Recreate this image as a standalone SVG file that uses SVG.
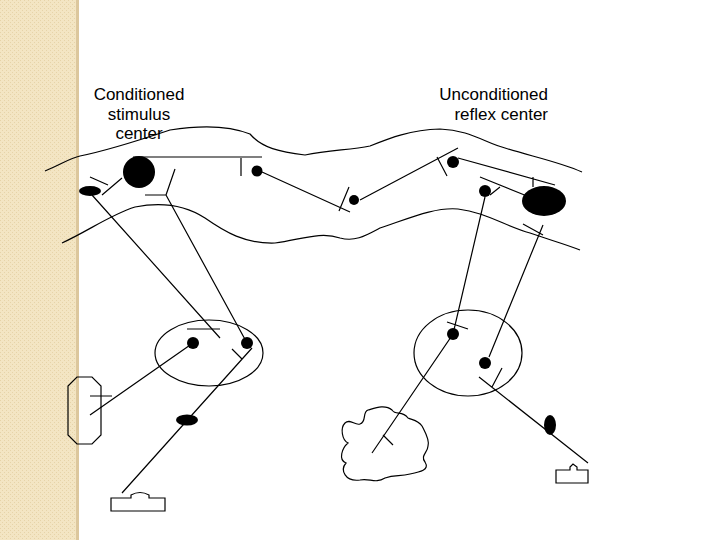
<svg xmlns="http://www.w3.org/2000/svg" width="720" height="540" viewBox="0 0 720 540">
<style>
.l{fill:none;stroke:#000;stroke-width:1.2}
.f{fill:#000}
.t{font-family:"Liberation Sans",Arial,sans-serif;font-size:17px;fill:#000;text-anchor:middle}
.e{text-anchor:end}
</style>
<defs>
<pattern id="p" width="4" height="4" patternUnits="userSpaceOnUse">
<rect width="4" height="4" fill="#f3e5c3"/><rect width="1" height="1" fill="#e6d3a8"/><rect x="2" y="2" width="1" height="1" fill="#e6d3a8"/>
</pattern>
</defs>
<rect width="720" height="540" fill="#fff"/>
<rect width="77" height="540" fill="url(#p)"/>
<rect x="76" width="3" height="540" fill="#dcc79d"/>
<g id="labels">
<text class="t" x="139" y="100">Conditioned</text>
<text class="t" x="139" y="120">stimulus</text>
<text class="t" x="139" y="139">center</text>
<text class="t e" x="548" y="100">Unconditioned</text>
<text class="t e" x="548" y="120">reflex center</text>
</g>
<g id="brain">
<path class="l" d="M45,171 C60,165 70,158 80,156 C110,150 140,140 170,130 C195,126 225,124 250,134 C262,148 280,152 305,155 C330,150 350,150 370,146 C390,138 410,130 440,129 C470,130 485,143 505,148 C530,156 560,162 582,172"/>
<path class="l" d="M62,243 C90,230 110,215 135,207 C160,202 185,205 205,218 C225,232 245,244 275,243 C300,240 320,231 340,238 C355,242 365,236 380,228 C410,218 435,207 458,209 C485,212 505,226 530,233 C550,240 565,244 580,250"/>
</g>
<g id="cs-center">
<circle class="f" cx="139" cy="172" r="16"/>
<ellipse class="f" cx="90" cy="191" rx="11" ry="5"/>
<circle class="f" cx="257" cy="171" r="5.5"/>
<circle class="f" cx="354" cy="200" r="5"/>
</g>
<g id="ur-center">
<circle class="f" cx="453" cy="162" r="6"/>
<circle class="f" cx="485" cy="191" r="6"/>
<ellipse class="f" cx="544" cy="201" rx="22" ry="15"/>
</g>
<g id="left-ganglion">
<ellipse class="l" cx="209" cy="353" rx="54" ry="33"/>
<circle class="f" cx="193" cy="343" r="6"/>
<circle class="f" cx="247" cy="343" r="6"/>
</g>
<g id="right-ganglion">
<ellipse class="l" cx="468" cy="353" rx="54" ry="43"/>
<circle class="f" cx="453" cy="334" r="6"/>
<circle class="f" cx="485" cy="363" r="6"/>
</g>
<g id="octagon"><path class="l" d="M77,377 L92,377 L101,386 L101,435 L92,444 L77,444 L68,435 L68,386 Z"/></g>
<g id="left-ganglion-cell"><ellipse class="f" cx="187" cy="420" rx="11" ry="5.5"/></g>
<g id="left-receptor"><path class="l" d="M111,498 L131,498 L131,495 Q140,490 149,495 L149,498 L165,498 L165,511 L111,511 Z"/></g>
<g id="right-ganglion-cell"><ellipse class="f" cx="550" cy="425" rx="6" ry="10"/></g>
<g id="right-receptor"><path class="l" d="M556,470 L570,470 L570,467 L573,464 L577,467 L577,470 L588,470 L588,483 L556,483 Z"/></g>
<g id="organ"><path class="l" d="M345,423 C340,428 342,440 348,443 C342,448 338,460 346,463 C340,470 345,482 360,480 C370,478 375,484 385,478 C395,474 400,477 410,474 C420,472 430,470 425,462 C420,456 428,452 428,446 C430,440 425,432 422,426 C418,420 412,420 408,418 C402,410 396,416 392,410 C385,404 375,408 368,410 C362,412 367,422 360,424 C355,426 350,418 345,423 Z"/></g>
<g id="connectors">
<path class="l" d="M133,157 H262 M241,158 V176 M262,172 L350,212 M339,211 L349,187"/>
<path class="l" d="M122,178 L102,195 M90,177 L108,185 M92,195 L220,338 M175,169 L166,195 L247,343 M145,195 H166"/>
<path class="l" d="M187,329 H220 M232,349 L242,359 M193,343 L90,415 M90,396 H112 M252,348 L122,493"/>
<path class="l" d="M360,200 L458,148 M437,157 L447,176 M458,158 L555,185 M480,177 L527,196 M533,177 V187 M490,195 L500,187"/>
<path class="l" d="M485,197 L453,334 L372,453 M447,322 L468,329 M383,435 L393,445"/>
<path class="l" d="M543,225 L489,357 M523,224 L543,235 M502,368 L492,387 M479,377 L588,463"/>
</g>
</svg>
